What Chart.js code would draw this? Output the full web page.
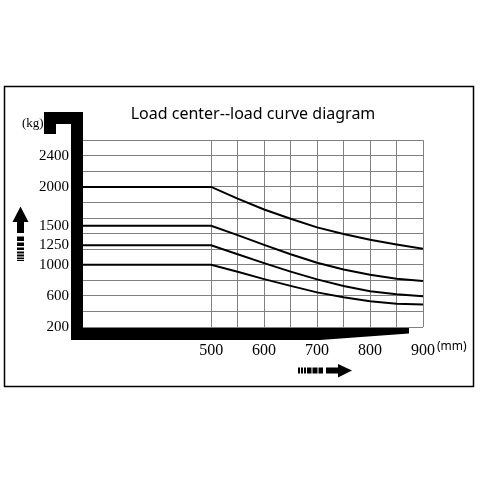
<!DOCTYPE html>
<html>
<head>
<meta charset="utf-8">
<script src="https://cdn.jsdelivr.net/npm/chart.js@4.4.1/dist/chart.umd.min.js"></script>
<style>
  html, body { margin: 0; padding: 0; background: #fff; }
</style>
</head>
<body>
<canvas id="myChart" width="480" height="480"></canvas>
<script>
// load center (mm) and rated load (kg) for each curve
const loadCenters = [500, 550, 600, 650, 700, 750, 800, 850, 900];
const cap2000 = [2000, 1850, 1710, 1590, 1480, 1395, 1320, 1260, 1205];
const cap1500 = [1500, 1380, 1255, 1135, 1025, 940, 870, 820, 790];
const cap1250 = [1250, 1135, 1020, 912, 812, 728, 660, 620, 595];
const cap1000 = [1000, 910, 815, 728, 645, 583, 532, 500, 488];

const yGrid = [200, 400, 600, 800, 1000, 1200, 1400, 1600, 1800, 2000, 2200, 2400, 2600];
const yLabels = [200, 600, 1000, 1250, 1500, 2000, 2400];
const xLabels = [500, 600, 700, 800, 900];
const xStart = 258;

function curve(vals) {
  var pts = [{ x: xStart, y: vals[0] }];
  loadCenters.forEach(function (c, i) { pts.push({ x: c, y: vals[i] }); });
  return pts;
}

function line(vals) {
  return { data: curve(vals), borderColor: "#000", borderWidth: 2, pointRadius: 0, tension: 0, fill: false };
}

// fork shaped frame, arrows, units, outer box
const decor = {
  id: "decor",
  afterDraw: function (chart) {
    var ctx = chart.ctx;
    ctx.save();
    ctx.strokeStyle = "#000";
    ctx.lineWidth = 1.5;
    ctx.strokeRect(4.5, 86.5, 469, 300);

    ctx.fillStyle = "#000";
    ctx.fillRect(71, 112, 12, 228);
    ctx.fillRect(44, 112, 39, 12);
    ctx.fillRect(44, 112, 12, 22);

    ctx.beginPath();
    ctx.moveTo(71, 328);
    ctx.lineTo(409, 328);
    ctx.lineTo(409, 333.5);
    ctx.lineTo(320, 340);
    ctx.lineTo(71, 340);
    ctx.closePath();
    ctx.fill();

    // up arrow
    ctx.beginPath();
    ctx.moveTo(12.5, 222);
    ctx.lineTo(20.5, 206.5);
    ctx.lineTo(28.5, 222);
    ctx.closePath();
    ctx.fill();
    ctx.fillRect(17, 221, 7, 12);
    [[236.5, 241], [242.5, 246], [247.5, 250], [251.5, 253.5], [254.5, 256.5], [257.5, 259], [259.8, 261]].forEach(function (b) {
      ctx.fillRect(17, b[0], 7, b[1] - b[0]);
    });

    // right arrow
    [[298, 300], [301, 303], [304, 306], [307, 311.5], [312.5, 317.5], [318.5, 323]].forEach(function (b) {
      ctx.fillRect(b[0], 367.5, b[1] - b[0], 6);
    });
    ctx.fillRect(326, 367.5, 13, 6);
    ctx.beginPath();
    ctx.moveTo(338, 364);
    ctx.lineTo(352, 370.5);
    ctx.lineTo(338, 377.5);
    ctx.closePath();
    ctx.fill();

    ctx.textBaseline = "middle";
    ctx.textAlign = "left";
    ctx.font = "13px 'Liberation Serif'";
    ctx.fillText("(kg)", 22, 124);
    ctx.font = "12px 'Noto Sans'";
    ctx.fillText("(mm)", 437, 347);
    ctx.restore();
  }
};

var ctx = document.getElementById("myChart");
var myChart = new Chart(ctx, {
  type: "line",
  data: {
    datasets: [line(cap2000), line(cap1500), line(cap1250), line(cap1000)]
  },
  options: {
    responsive: false,
    animation: false,
    layout: { padding: { top: 0, left: 0, right: 57, bottom: 0 } },
    plugins: {
      legend: { display: false },
      tooltip: { enabled: false },
      title: {
        display: true,
        fullSize: false,
        text: "Load center--load curve diagram",
        color: "#000",
        font: { family: "Noto Sans", size: 16, weight: "normal" },
        padding: { top: 105, bottom: 16 }
      }
    },
    scales: {
      x: {
        type: "linear",
        min: xStart,
        max: 900,
        afterBuildTicks: function (s) { s.ticks = loadCenters.map(function (v) { return { value: v }; }); },
        afterFit: function (s) { s.height = 153; },
        border: { display: false },
        grid: { color: "#808080", lineWidth: 1, drawTicks: false },
        ticks: {
          autoSkip: false,
          maxRotation: 0,
          padding: 14,
          color: "#000",
          font: { family: "Liberation Serif", size: 16 },
          callback: function (v) { return xLabels.indexOf(v) >= 0 ? String(v) : ""; }
        }
      },
      y: {
        type: "linear",
        min: 200,
        max: 2600,
        afterBuildTicks: function (s) {
          s.ticks = yGrid.concat([1250, 1500]).sort(function (a, b) { return a - b; })
            .map(function (v) { return { value: v }; });
        },
        afterFit: function (s) { s.width = 83; },
        border: { display: false },
        grid: {
          drawTicks: false,
          lineWidth: 1,
          color: function (c) { return yGrid.indexOf(c.tick.value) >= 0 ? "#808080" : "rgba(0,0,0,0)"; }
        },
        ticks: {
          autoSkip: false,
          padding: 14,
          color: "#000",
          font: { family: "Liberation Serif", size: 15 },
          callback: function (v) { return yLabels.indexOf(v) >= 0 ? String(v) : ""; }
        }
      }
    }
  },
  plugins: [decor]
});
</script>
</body>
</html>
